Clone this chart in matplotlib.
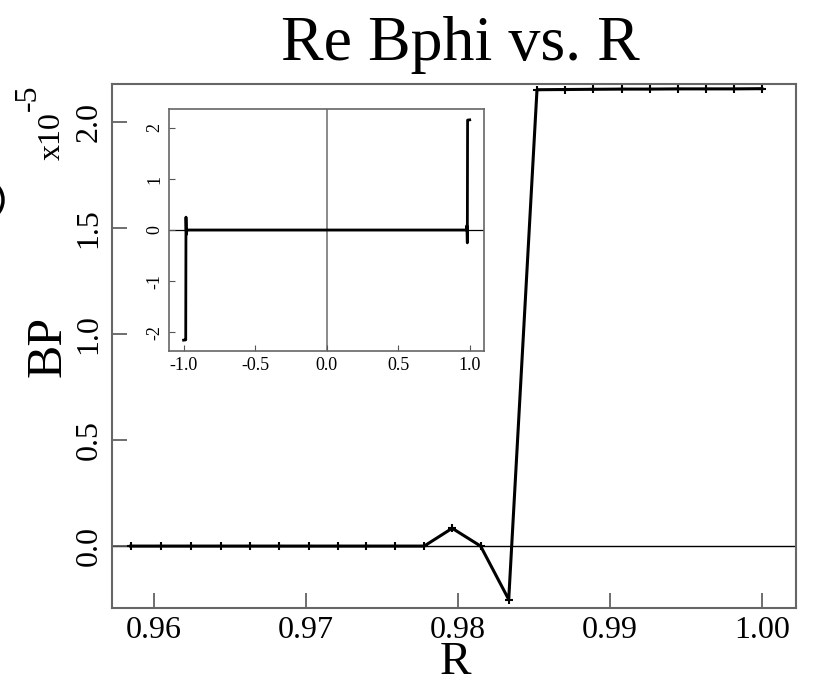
import numpy as np
import matplotlib
matplotlib.use("Agg")
import matplotlib.pyplot as plt
from matplotlib.patches import Arc

plt.rcParams['font.family'] = ['Liberation Serif', 'DejaVu Serif']

# radial grid points (R) and Re Bphi values in units of 1e-5
r = [0.95847, 0.96044, 0.96241, 0.96439, 0.96630, 0.96822, 0.97018, 0.97209,
     0.97395, 0.97586, 0.97778, 0.97962, 0.98149, 0.98334, 0.98520, 0.98704,
     0.98888, 0.99077, 0.99263, 0.99447, 0.99632, 0.99816, 1.00000]
bp = [0.0, 0.0, 0.0, 0.0, 0.0, 0.0, 0.0, 0.0,
      0.0, 0.0, 0.0, 0.084, 0.0, -0.252, 2.152, 2.153,
      2.154, 2.155, 2.155, 2.156, 2.156, 2.156, 2.157]

# full domain for the inset (odd about R = 0)
r_full = [-v for v in r[::-1]] + r
bp_full = [-v for v in bp[::-1]] + bp

main_xticks = [0.96, 0.97, 0.98, 0.99, 1.00]
main_yticks = [0.0, 0.5, 1.0, 1.5, 2.0]
inset_xticks = [-1.0, -0.5, 0.0, 0.5, 1.0]
inset_yticks = [-2, -1, 0, 1, 2]

W, H = 813, 686
fig = plt.figure(figsize=(W / 100, H / 100), dpi=100)

ax = fig.add_axes([112 / W, 1 - 608 / H, (796 - 112) / W, (608 - 84) / H])
ax.axhline(0, color='black', lw=1.0, zorder=1)
ax.plot(r, bp, color='black', lw=2.2, marker='+', ms=6, mew=1.5, zorder=3)
ax.set_xlim(0.95724, 1.00224)
ax.set_ylim(-0.292, 2.179)
ax.set_xticks(main_xticks)
ax.set_xticklabels(['%.2f' % v for v in main_xticks])
ax.set_yticks(main_yticks)
ax.set_yticklabels(['%.1f' % v for v in main_yticks], rotation=90, va='center')
ax.tick_params(direction='in', length=11, width=1.2, color='#555555',
               labelsize=23, pad=6)
for s in ax.spines.values():
    s.set_color('#666666')
    s.set_linewidth(1.5)

ax.set_ylabel('BP', fontsize=36, labelpad=2)
fig.text(455 / W, 1.5 / H, 'R', fontsize=34, ha='center', va='bottom')

fig.text(460 / W, 1 - 60 / H, 'Re Bphi vs. R', fontsize=46,
         ha='center', va='baseline')
fig.text(67 / W, 1 - 160 / H, 'x10', fontsize=23, rotation=90,
         ha='right', va='bottom')
fig.text(43 / W, 1 - 111 / H, '-5', fontsize=23, rotation=90,
         ha='right', va='bottom')

# clipped glyph edge at the far left
fig.patches.append(Arc((-14, H - 200), 34, 38, theta1=-70, theta2=70,
                       transform=None, color='black', lw=2.5))

# inset with the whole radial domain
axi = fig.add_axes([169.3 / W, 1 - 351 / H, (484 - 169.3) / W, (351 - 109) / H])
axi.axhline(0, color='black', lw=0.9, zorder=1)
axi.axvline(0, color='#777777', lw=1.2, zorder=1)
axi.plot(r_full, bp_full, color='black', lw=2.0, zorder=3)
axi.set_xlim(-1.1, 1.1)
axi.set_ylim(-2.37, 2.37)
axi.set_xticks(inset_xticks)
axi.set_xticklabels(['%.1f' % v for v in inset_xticks])
axi.set_yticks(inset_yticks)
axi.set_yticklabels([str(v) for v in inset_yticks], rotation=90, va='center')
axi.tick_params(direction='in', length=4, width=0.8, color='#555555',
                labelsize=13, pad=4)
for s in axi.spines.values():
    s.set_color('#666666')
    s.set_linewidth(1.2)

fig.savefig('out.png', dpi=100)
